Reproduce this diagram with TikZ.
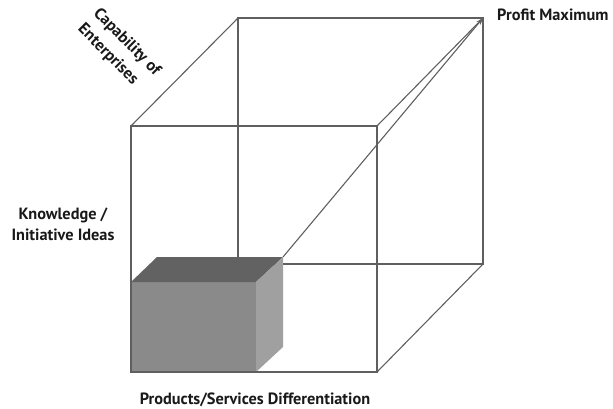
\documentclass[tikz,border=0pt]{standalone}
\usepackage{fontspec}
\setmainfont{PT Sans}
\usetikzlibrary{arrows.meta}
\definecolor{edgegray}{RGB}{95,95,95}
\definecolor{boxfront}{RGB}{138,138,138}
\definecolor{boxtop}{RGB}{98,98,98}
\definecolor{boxside}{RGB}{160,160,160}
\begin{document}
\begin{tikzpicture}[x=1pt,y=-1pt,
  edge/.style={draw=edgegray, line width=1.1pt, line join=miter},
  lbl/.style={font=\bfseries\fontsize{16.3}{21}\selectfont, inner sep=0pt, text=black!90}]
\useasboundingbox (0,0) rectangle (613,409);
% corners of the large cube
\coordinate (FTL) at (131,126);
\coordinate (FTR) at (377,126);
\coordinate (FBL) at (131,372);
\coordinate (FBR) at (377,372);
\coordinate (BTL) at (238,18);
\coordinate (BTR) at (483,18);
\coordinate (BBL) at (238,264);
\coordinate (BBR) at (483,264);
% corners of the small solid box
\coordinate (SFTL) at (131,282);
\coordinate (SFTR) at (256,282);
\coordinate (SFBR) at (256,372);
\coordinate (SBTL) at (157,257);
\coordinate (SBTR) at (283,257);
\coordinate (SBBR) at (283,347);
% back face and depth edges
\draw[edge] (BTL) -- (BTR) -- (BBR) -- (BBL) -- cycle;
\draw[edge] (FTL) -- (BTL);
\draw[edge] (FTR) -- (BTR);
\draw[edge] (FBR) -- (BBR);
\draw[edge] (FBL) -- (BBL);
% the small solid box
\fill[boxfront] (SFTL) rectangle (SFBR);
\fill[boxtop] (SFTL) -- (SBTL) -- (SBTR) -- (SFTR) -- cycle;
\fill[boxside] (SFTR) -- (SBTR) -- (SBBR) -- (SFBR) -- cycle;
% front face
\draw[edge] (FTL) rectangle (FBR);
% growth arrow
\draw[edge, -{Stealth[length=7pt,width=5pt]}] (SBTR) -- (BTR);
% axis labels
\node[lbl, anchor=west] (profit) at (497,15) {Profit Maximum};
\node[lbl, align=center] (knowledge) at (63,224) {Knowledge /\\Initiative Ideas};
\node[lbl] (products) at (255,400) {Products/Services Differentiation};
\node[lbl, font=\bfseries\fontsize{16.3}{22}\selectfont, align=left, rotate=-45] (capability) at (119,50) {Capability of\\Enterprises};
\end{tikzpicture}
\end{document}
